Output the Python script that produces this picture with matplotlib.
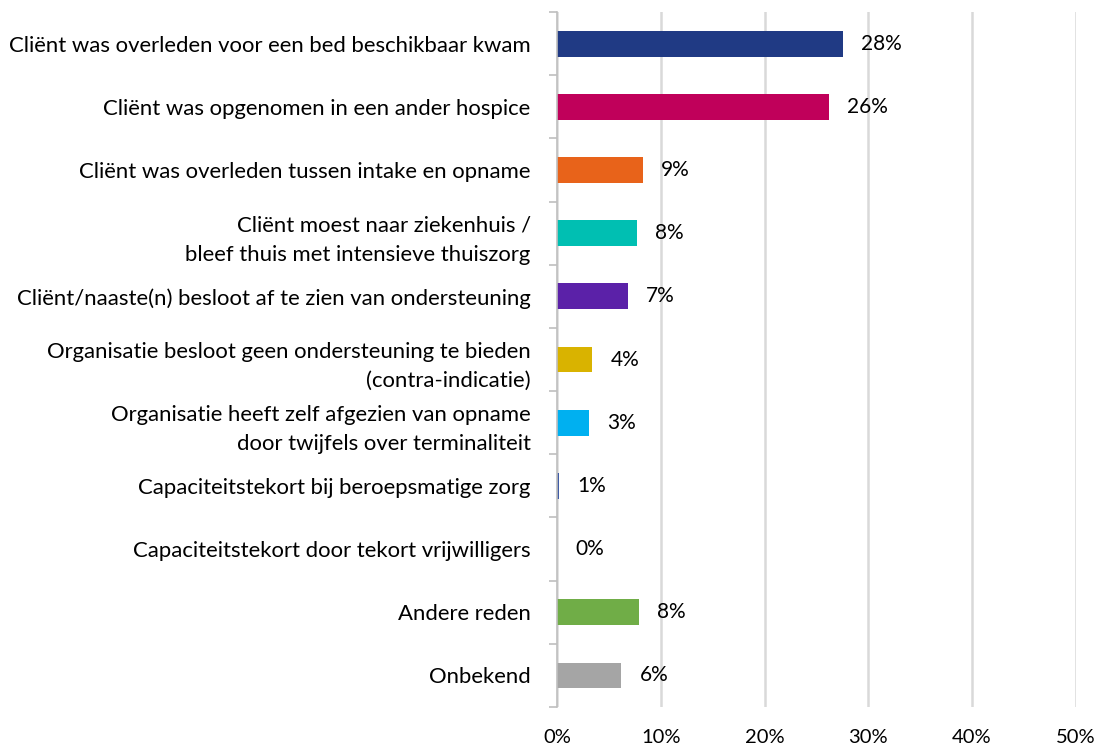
import matplotlib.pyplot as plt
from matplotlib.ticker import FixedLocator, NullFormatter

plt.rcParams['font.family'] = ['Lato', 'DejaVu Sans']

categories = [
    'Cliënt was overleden voor een bed beschikbaar kwam',
    'Cliënt was opgenomen in een ander hospice',
    'Cliënt was overleden tussen intake en opname',
    'Cliënt moest naar ziekenhuis /\nbleef thuis met intensieve thuiszorg',
    'Cliënt/naaste(n) besloot af te zien van ondersteuning',
    'Organisatie besloot geen ondersteuning te bieden\n(contra-indicatie)',
    'Organisatie heeft zelf afgezien van opname\ndoor twijfels over terminaliteit',
    'Capaciteitstekort bij beroepsmatige zorg',
    'Capaciteitstekort door tekort vrijwilligers',
    'Andere reden',
    'Onbekend',
]
values = [27.6, 26.2, 8.3, 7.7, 6.8, 3.4, 3.1, 0.2, 0.0, 7.9, 6.2]
value_labels = ['28%', '26%', '9%', '8%', '7%', '4%', '3%', '1%', '0%', '8%', '6%']
colors = ['#203A84', '#C0005A', '#E8631A', '#00BFB2', '#5B21A8', '#D9B300',
          '#00B0F0', '#3F5BA5', '#A5A5A5', '#70AD47', '#A5A5A5']
xticks = [0, 10, 20, 30, 40, 50]

fig = plt.figure(figsize=(11.01, 7.49), dpi=100)
ax = fig.add_axes([0.506, 0.056, 0.471, 0.928])

pos = list(range(len(categories)))
ax.barh(pos, values, height=0.41, color=colors, zorder=3)
ax.set_ylim(len(categories) - 0.5, -0.5)
ax.set_xlim(0, 50)

for p, v, lab in zip(pos, values, value_labels):
    ax.annotate(lab, (v, p), xytext=(13, 0), textcoords='offset points',
                va='center', ha='left', fontsize=15, color='#000000')

ax.set_yticks(pos)
ax.set_yticklabels(categories, fontsize=15.9, ha='right', linespacing=1.6)
ax.tick_params(axis='y', which='major', length=0, pad=19)
ax.yaxis.set_minor_locator(FixedLocator([i - 0.5 for i in range(len(categories) + 1)]))
ax.yaxis.set_minor_formatter(NullFormatter())
ax.tick_params(axis='y', which='minor', length=6, width=1.2, color='#BFBFBF')

ax.set_xticks(xticks)
ax.set_xticklabels([f'{t}%' for t in xticks], fontsize=14.5)
ax.tick_params(axis='x', length=0, pad=16)
ax.grid(axis='x', color='#D9D9D9', linewidth=1.8, zorder=0)

for s in ['top', 'right', 'bottom']:
    ax.spines[s].set_visible(False)
ax.spines['left'].set_color('#BFBFBF')
ax.spines['left'].set_linewidth(1.2)
ax.spines['left'].set_zorder(4)

fig.savefig('out.png', dpi=100)
